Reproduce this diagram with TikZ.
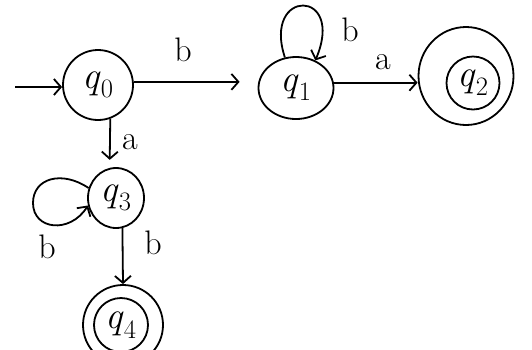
\documentclass[tikz,border=0pt]{standalone}
\usetikzlibrary{arrows.meta,shapes.geometric}
\newcommand{\stname}[1]{\textit{q}\textsubscript{#1}}
\begin{document}
\begin{tikzpicture}[x=1pt,y=-1pt,line width=1.8pt,
  state/.style={draw,ellipse,inner sep=0pt,font=\fontsize{38}{40}\selectfont},
  inner/.style={state},
  lbl/.style={font=\fontsize{34}{36}\selectfont,inner sep=0pt},
  edge/.style={-{Straight Barb[length=7pt,width=16pt,line width=1.8pt]}}]
\useasboundingbox (0,0) rectangle (532,349);

% states
\node[state,minimum width=70pt,minimum height=70pt] (q0) at (98,85) {\stname{0}};
\node[state,minimum width=75pt,minimum height=62pt] (q1) at (296,88) {\stname{1}};
\node[state,minimum width=95pt,minimum height=98pt] (q2) at (466,76) {};
\node[inner,minimum width=53pt,minimum height=53pt] (q2in) at (473,83) {\stname{2}};
\node[state,minimum width=56pt,minimum height=60pt] (q3) at (116,198) {\stname{3}};
\node[state,minimum width=80pt,minimum height=80pt] (q4) at (123,325) {};
\node[inner,minimum width=54pt,minimum height=54pt] (q4in) at (121,325) {\stname{4}};

% start arrow
\coordinate (start) at (15,87);
\draw[edge] (start) -- (q0.west |- start);

% transitions
\draw[edge,shorten >=18pt] (q0.5) -- (q1.west |- q0.5);
\draw[edge] (q1.8) -- (q2.west |- q1.8);
\draw[edge] (q1.110) .. controls (262,-12) and (346,-12) .. (q1.55);
\draw[edge,shorten >=8pt] (q0.-70) -- (q3.102);
\draw[edge] (q3.160) .. controls (62,170) and (33,178) .. (33,203)
  .. controls (33,230) and (70,234) .. (q3.195);
\draw[edge] (q3.-78) -- (q4.north);

% labels
\node[lbl] (l1) at (183,50) {b};
\node[lbl] (l2) at (350,30) {b};
\node[lbl] (l3) at (383,62) {a};
\node[lbl] (l4) at (130,142) {a};
\node[lbl] (l5) at (47,247) {b};
\node[lbl] (l6) at (153,243) {b};
\end{tikzpicture}
\end{document}
